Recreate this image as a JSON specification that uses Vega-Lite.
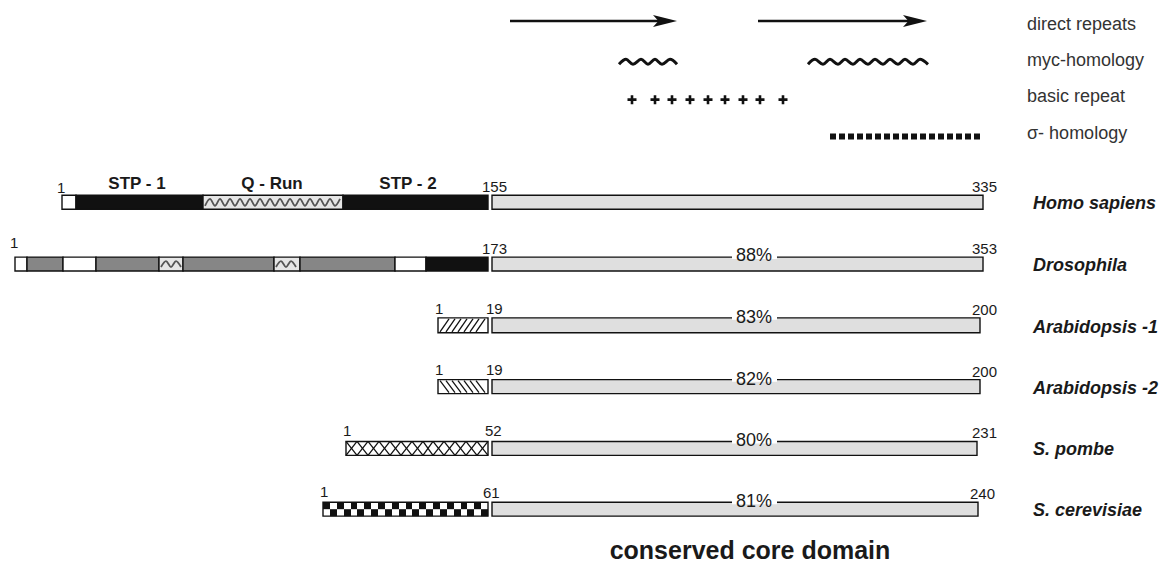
{
  "$schema": "https://vega.github.io/schema/vega-lite/v6.json",
  "autosize": {"type": "fit", "contains": "padding"},
  "width": 1165,
  "height": 564,
  "padding": 0,
  "background": "white",
  "config": {"view": {"stroke": null}, "text": {"font": "Liberation Sans"}},
  "encoding": {
    "x": {"field": "x", "type": "quantitative", "scale": {"domain": [0, 1165], "nice": false, "zero": false}, "axis": null},
    "y": {"field": "y", "type": "quantitative", "scale": {"domain": [0, 564], "reverse": true, "nice": false, "zero": false}, "axis": null}
  },
  "layer": [
    {
      "data": {"values": [
        {"x": 62, "x2": 76, "y": 196, "y2": 210, "k": "white"},
        {"x": 76, "x2": 203, "y": 196, "y2": 210, "k": "black"},
        {"x": 203, "x2": 343, "y": 196, "y2": 210, "k": "wavy"},
        {"x": 343, "x2": 488, "y": 196, "y2": 210, "k": "black"},
        {"x": 492, "x2": 983, "y": 196, "y2": 210, "k": "core"},
        {"x": 15, "x2": 27, "y": 258, "y2": 272, "k": "white"},
        {"x": 27, "x2": 63, "y": 258, "y2": 272, "k": "stip"},
        {"x": 63, "x2": 96, "y": 258, "y2": 272, "k": "white"},
        {"x": 96, "x2": 159, "y": 258, "y2": 272, "k": "stip"},
        {"x": 159, "x2": 183, "y": 258, "y2": 272, "k": "wavy"},
        {"x": 183, "x2": 274, "y": 258, "y2": 272, "k": "stip"},
        {"x": 274, "x2": 300, "y": 258, "y2": 272, "k": "wavy"},
        {"x": 300, "x2": 395, "y": 258, "y2": 272, "k": "stip"},
        {"x": 395, "x2": 426, "y": 258, "y2": 272, "k": "white"},
        {"x": 426, "x2": 488, "y": 258, "y2": 272, "k": "black"},
        {"x": 492, "x2": 983, "y": 258, "y2": 272, "k": "core"},
        {"x": 438, "x2": 488, "y": 319, "y2": 334, "k": "white"},
        {"x": 492, "x2": 980, "y": 319, "y2": 334, "k": "core"},
        {"x": 438, "x2": 488, "y": 381, "y2": 395, "k": "white"},
        {"x": 492, "x2": 980, "y": 381, "y2": 395, "k": "core"},
        {"x": 346, "x2": 488, "y": 443, "y2": 457, "k": "white"},
        {"x": 492, "x2": 977, "y": 443, "y2": 457, "k": "core"},
        {"x": 323, "x2": 488, "y": 504, "y2": 518, "k": "white"},
        {"x": 492, "x2": 978, "y": 504, "y2": 518, "k": "core"}
      ]},
      "mark": {"type": "rect", "stroke": "#111111", "strokeWidth": 1.4},
      "encoding": {
        "x2": {"field": "x2"},
        "y2": {"field": "y2"},
        "color": {"field": "k", "type": "nominal", "legend": null,
          "scale": {"domain": ["white", "black", "wavy", "stip", "core"], "range": ["#ffffff", "#111111", "#e6e6e6", "#868686", "#dfdfdf"]}}
      }
    },
    {
      "data": {"values": [
        {"x": 323, "x2": 330, "y": 504, "y2": 511}, {"x": 337, "x2": 344, "y": 504, "y2": 511},
        {"x": 351, "x2": 357, "y": 504, "y2": 511}, {"x": 364, "x2": 371, "y": 504, "y2": 511},
        {"x": 378, "x2": 385, "y": 504, "y2": 511}, {"x": 392, "x2": 399, "y": 504, "y2": 511},
        {"x": 406, "x2": 412, "y": 504, "y2": 511}, {"x": 419, "x2": 426, "y": 504, "y2": 511},
        {"x": 433, "x2": 440, "y": 504, "y2": 511}, {"x": 447, "x2": 454, "y": 504, "y2": 511},
        {"x": 461, "x2": 467, "y": 504, "y2": 511}, {"x": 474, "x2": 481, "y": 504, "y2": 511},
        {"x": 330, "x2": 337, "y": 511, "y2": 518}, {"x": 344, "x2": 351, "y": 511, "y2": 518},
        {"x": 357, "x2": 364, "y": 511, "y2": 518}, {"x": 371, "x2": 378, "y": 511, "y2": 518},
        {"x": 385, "x2": 392, "y": 511, "y2": 518}, {"x": 399, "x2": 406, "y": 511, "y2": 518},
        {"x": 412, "x2": 419, "y": 511, "y2": 518}, {"x": 426, "x2": 433, "y": 511, "y2": 518},
        {"x": 440, "x2": 447, "y": 511, "y2": 518}, {"x": 454, "x2": 461, "y": 511, "y2": 518},
        {"x": 467, "x2": 474, "y": 511, "y2": 518}, {"x": 481, "x2": 488, "y": 511, "y2": 518}
      ]},
      "mark": {"type": "rect", "color": "#111111"},
      "encoding": {"x2": {"field": "x2"}, "y2": {"field": "y2"}}
    },
    {
      "data": {"values": [
        {"x": 440, "y": 333, "x2": 449, "y2": 320}, {"x": 446, "y": 333, "x2": 455, "y2": 320},
        {"x": 452, "y": 333, "x2": 461, "y2": 320}, {"x": 458, "y": 333, "x2": 467, "y2": 320},
        {"x": 464, "y": 333, "x2": 473, "y2": 320}, {"x": 470, "y": 333, "x2": 479, "y2": 320},
        {"x": 476, "y": 333, "x2": 485, "y2": 320},
        {"x": 440, "y": 382, "x2": 449, "y2": 394}, {"x": 446, "y": 382, "x2": 455, "y2": 394},
        {"x": 452, "y": 382, "x2": 461, "y2": 394}, {"x": 458, "y": 382, "x2": 467, "y2": 394},
        {"x": 464, "y": 382, "x2": 473, "y2": 394}, {"x": 470, "y": 382, "x2": 479, "y2": 394},
        {"x": 476, "y": 382, "x2": 485, "y2": 394},
        {"x": 346, "y": 457, "x2": 357, "y2": 443}, {"x": 357, "y": 457, "x2": 368, "y2": 443},
        {"x": 368, "y": 457, "x2": 379, "y2": 443}, {"x": 379, "y": 457, "x2": 390, "y2": 443},
        {"x": 390, "y": 457, "x2": 401, "y2": 443}, {"x": 401, "y": 457, "x2": 412, "y2": 443},
        {"x": 412, "y": 457, "x2": 423, "y2": 443}, {"x": 423, "y": 457, "x2": 433, "y2": 443},
        {"x": 433, "y": 457, "x2": 444, "y2": 443}, {"x": 444, "y": 457, "x2": 455, "y2": 443},
        {"x": 455, "y": 457, "x2": 466, "y2": 443}, {"x": 466, "y": 457, "x2": 477, "y2": 443},
        {"x": 477, "y": 457, "x2": 488, "y2": 443},
        {"x": 346, "y": 443, "x2": 357, "y2": 457}, {"x": 357, "y": 443, "x2": 368, "y2": 457},
        {"x": 368, "y": 443, "x2": 379, "y2": 457}, {"x": 379, "y": 443, "x2": 390, "y2": 457},
        {"x": 390, "y": 443, "x2": 401, "y2": 457}, {"x": 401, "y": 443, "x2": 412, "y2": 457},
        {"x": 412, "y": 443, "x2": 423, "y2": 457}, {"x": 423, "y": 443, "x2": 433, "y2": 457},
        {"x": 433, "y": 443, "x2": 444, "y2": 457}, {"x": 444, "y": 443, "x2": 455, "y2": 457},
        {"x": 455, "y": 443, "x2": 466, "y2": 457}, {"x": 466, "y": 443, "x2": 477, "y2": 457},
        {"x": 477, "y": 443, "x2": 488, "y2": 457}
      ]},
      "mark": {"type": "rule", "color": "#111111", "strokeWidth": 1.3},
      "encoding": {"x2": {"field": "x2"}, "y2": {"field": "y2"}}
    },
    {
      "data": {"values": [
        {"g": "q", "x": 205, "y": 206.5}, {"g": "q", "x": 210, "y": 199.5}, {"g": "q", "x": 215, "y": 206.5}, {"g": "q", "x": 220, "y": 199.5},
        {"g": "q", "x": 225, "y": 206.5}, {"g": "q", "x": 230, "y": 199.5}, {"g": "q", "x": 235, "y": 206.5}, {"g": "q", "x": 240, "y": 199.5},
        {"g": "q", "x": 245, "y": 206.5}, {"g": "q", "x": 250, "y": 199.5}, {"g": "q", "x": 255, "y": 206.5}, {"g": "q", "x": 260, "y": 199.5},
        {"g": "q", "x": 265, "y": 206.5}, {"g": "q", "x": 270, "y": 199.5}, {"g": "q", "x": 275, "y": 206.5}, {"g": "q", "x": 280, "y": 199.5},
        {"g": "q", "x": 285, "y": 206.5}, {"g": "q", "x": 290, "y": 199.5}, {"g": "q", "x": 295, "y": 206.5}, {"g": "q", "x": 300, "y": 199.5},
        {"g": "q", "x": 305, "y": 206.5}, {"g": "q", "x": 310, "y": 199.5}, {"g": "q", "x": 315, "y": 206.5}, {"g": "q", "x": 320, "y": 199.5},
        {"g": "q", "x": 325, "y": 206.5}, {"g": "q", "x": 330, "y": 199.5}, {"g": "q", "x": 335, "y": 206.5}, {"g": "q", "x": 340, "y": 199.5},
        {"g": "d1", "x": 161, "y": 268}, {"g": "d1", "x": 166, "y": 262}, {"g": "d1", "x": 171, "y": 268}, {"g": "d1", "x": 176, "y": 262}, {"g": "d1", "x": 181, "y": 268},
        {"g": "d2", "x": 276, "y": 268}, {"g": "d2", "x": 281, "y": 262}, {"g": "d2", "x": 286, "y": 268}, {"g": "d2", "x": 291, "y": 262}, {"g": "d2", "x": 296, "y": 268}
      ]},
      "mark": {"type": "line", "interpolate": "cardinal", "color": "#555555", "strokeWidth": 1.8},
      "encoding": {"detail": {"field": "g"}}
    },
    {
      "data": {"values": [
        {"g": "m1", "x": 619, "y": 64.5}, {"g": "m1", "x": 626, "y": 59.5}, {"g": "m1", "x": 633, "y": 64.5}, {"g": "m1", "x": 641, "y": 59.5},
        {"g": "m1", "x": 648, "y": 64.5}, {"g": "m1", "x": 655, "y": 59.5}, {"g": "m1", "x": 662, "y": 64.5}, {"g": "m1", "x": 670, "y": 59.5},
        {"g": "m1", "x": 677, "y": 64.5},
        {"g": "m2", "x": 808, "y": 64.5}, {"g": "m2", "x": 815, "y": 59.5}, {"g": "m2", "x": 823, "y": 64.5}, {"g": "m2", "x": 830, "y": 59.5},
        {"g": "m2", "x": 838, "y": 64.5}, {"g": "m2", "x": 845, "y": 59.5}, {"g": "m2", "x": 853, "y": 64.5}, {"g": "m2", "x": 860, "y": 59.5},
        {"g": "m2", "x": 868, "y": 64.5}, {"g": "m2", "x": 875, "y": 59.5}, {"g": "m2", "x": 883, "y": 64.5}, {"g": "m2", "x": 890, "y": 59.5},
        {"g": "m2", "x": 898, "y": 64.5}, {"g": "m2", "x": 905, "y": 59.5}, {"g": "m2", "x": 913, "y": 64.5}, {"g": "m2", "x": 920, "y": 59.5},
        {"g": "m2", "x": 928, "y": 64.5}
      ]},
      "mark": {"type": "line", "interpolate": "cardinal", "color": "#111111", "strokeWidth": 3},
      "encoding": {"detail": {"field": "g"}}
    },
    {
      "data": {"values": [
        {"x": 732, "x2": 777, "y": 255, "y2": 260},
        {"x": 732, "x2": 777, "y": 316, "y2": 321},
        {"x": 732, "x2": 777, "y": 378, "y2": 383},
        {"x": 732, "x2": 777, "y": 440, "y2": 445},
        {"x": 732, "x2": 777, "y": 501, "y2": 506}
      ]},
      "mark": {"type": "rect", "color": "#ffffff"},
      "encoding": {"x2": {"field": "x2"}, "y2": {"field": "y2"}}
    },
    {
      "data": {"values": [
        {"x": 510, "x2": 662, "y": 21},
        {"x": 758, "x2": 912, "y": 21}
      ]},
      "mark": {"type": "rule", "color": "#111111", "strokeWidth": 2.6},
      "encoding": {"x2": {"field": "x2"}}
    },
    {
      "data": {"values": [
        {"x": 665, "y": 21},
        {"x": 915, "y": 21}
      ]},
      "mark": {"type": "point", "shape": "M1,0L-1,-0.5L-0.55,0L-1,0.5Z", "size": 576, "filled": true, "color": "#111111", "opacity": 1}
    },
    {
      "data": {"values": [
        {"x": 830, "x2": 982, "y": 137}
      ]},
      "mark": {"type": "rule", "color": "#111111", "strokeWidth": 6, "strokeDash": [6, 3]},
      "encoding": {"x2": {"field": "x2"}}
    },
    {
      "data": {"values": [
        {"x": 632, "y": 100}, {"x": 655, "y": 100}, {"x": 672, "y": 100}, {"x": 690, "y": 100}, {"x": 708, "y": 100},
        {"x": 725, "y": 100}, {"x": 743, "y": 100}, {"x": 760, "y": 100}, {"x": 783, "y": 100}
      ]},
      "mark": {"type": "point", "shape": "M-1,0L1,0M0,-1L0,1", "size": 81, "filled": false, "color": "#111111", "strokeWidth": 2.6, "opacity": 1}
    },
    {
      "data": {"values": [
        {"x": 57, "y": 194, "t": "1"}, {"x": 482, "y": 193, "t": "155"}, {"x": 972, "y": 193, "t": "335"},
        {"x": 10, "y": 249, "t": "1"}, {"x": 482, "y": 255, "t": "173"}, {"x": 972, "y": 255, "t": "353"},
        {"x": 435, "y": 315, "t": "1"}, {"x": 486, "y": 315, "t": "19"}, {"x": 972, "y": 316, "t": "200"},
        {"x": 435, "y": 376, "t": "1"}, {"x": 486, "y": 376, "t": "19"}, {"x": 972, "y": 378, "t": "200"},
        {"x": 343, "y": 438, "t": "1"}, {"x": 485, "y": 438, "t": "52"}, {"x": 972, "y": 440, "t": "231"},
        {"x": 320, "y": 499, "t": "1"}, {"x": 483, "y": 500, "t": "61"}, {"x": 970, "y": 501, "t": "240"}
      ]},
      "mark": {"type": "text", "align": "left", "baseline": "alphabetic", "fontSize": 15, "color": "#1a1a1a"},
      "encoding": {"text": {"field": "t"}}
    },
    {
      "data": {"values": [
        {"x": 754, "y": 262, "t": "88%"},
        {"x": 754, "y": 324, "t": "83%"},
        {"x": 754, "y": 386, "t": "82%"},
        {"x": 754, "y": 448, "t": "80%"},
        {"x": 754, "y": 509, "t": "81%"}
      ]},
      "mark": {"type": "text", "align": "center", "baseline": "alphabetic", "fontSize": 18, "color": "#1a1a1a"},
      "encoding": {"text": {"field": "t"}}
    },
    {
      "data": {"values": [
        {"x": 137, "y": 190, "t": "STP - 1"},
        {"x": 272, "y": 190, "t": "Q - Run"},
        {"x": 408, "y": 190, "t": "STP - 2"}
      ]},
      "mark": {"type": "text", "align": "center", "baseline": "alphabetic", "fontSize": 17, "fontWeight": "bold", "color": "#1a1a1a"},
      "encoding": {"text": {"field": "t"}}
    },
    {
      "data": {"values": [
        {"x": 1033, "y": 210, "t": "Homo sapiens"},
        {"x": 1033, "y": 272, "t": "Drosophila"},
        {"x": 1033, "y": 334, "t": "Arabidopsis -1"},
        {"x": 1033, "y": 395, "t": "Arabidopsis -2"},
        {"x": 1033, "y": 457, "t": "S. pombe"},
        {"x": 1033, "y": 518, "t": "S. cerevisiae"}
      ]},
      "mark": {"type": "text", "align": "left", "baseline": "alphabetic", "fontSize": 18, "fontWeight": "bold", "fontStyle": "italic", "color": "#1a1a1a"},
      "encoding": {"text": {"field": "t"}}
    },
    {
      "data": {"values": [
        {"x": 1027, "y": 30, "t": "direct repeats"},
        {"x": 1027, "y": 66, "t": "myc-homology"},
        {"x": 1027, "y": 102, "t": "basic repeat"},
        {"x": 1027, "y": 139, "t": "σ- homology"}
      ]},
      "mark": {"type": "text", "align": "left", "baseline": "alphabetic", "fontSize": 18, "color": "#333333"},
      "encoding": {"text": {"field": "t"}}
    },
    {
      "data": {"values": [
        {"x": 750, "y": 561, "t": "conserved core domain"}
      ]},
      "mark": {"type": "text", "align": "center", "baseline": "alphabetic", "fontSize": 25, "fontWeight": "bold", "color": "#1a1a1a"},
      "encoding": {"text": {"field": "t"}}
    }
  ]
}
